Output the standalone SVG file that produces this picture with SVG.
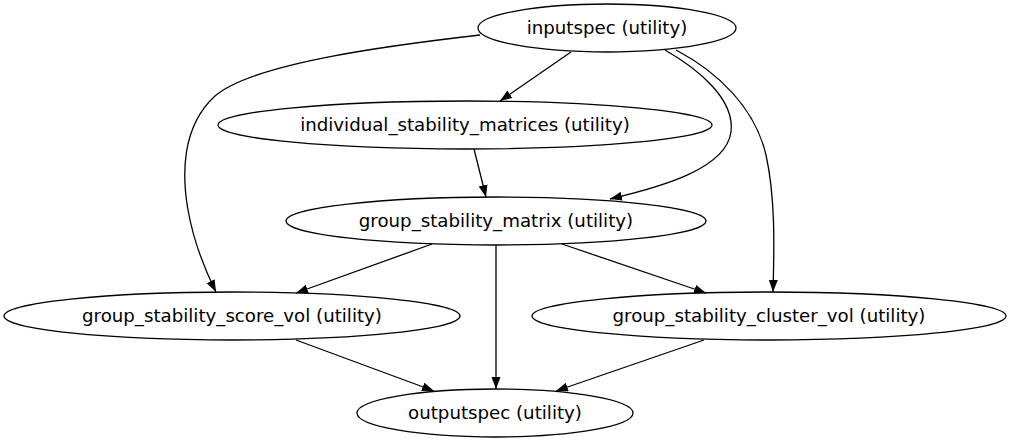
<svg xmlns="http://www.w3.org/2000/svg" width="1011" height="443" viewBox="0 0 1011 443">
<style>
.node ellipse{fill:none;stroke:#000;stroke-width:1.3}
.node text{font-family:"DejaVu Sans",sans-serif;font-size:18.2px;text-anchor:middle;fill:#000}
.edges path{fill:none;stroke:#000;stroke-width:1.3;marker-end:url(#arr)}
</style>
<defs>
<marker id="arr" markerUnits="userSpaceOnUse" markerWidth="14" markerHeight="12" refX="12" refY="4.5" orient="auto">
<path d="M0,0 L12,4.5 L0,9 z" fill="#000"/>
</marker>
</defs>
<rect width="1011" height="443" fill="#fff"/>
<g class="edges">
<path d="M571,52 L500,101"/>
<path d="M480,35 C402,44 254,62 215,96 C181,127 182,176 188,210 C193,238 203,266 216,292"/>
<path d="M474,149 L486,197"/>
<path d="M665,50 C700,70 735,100 731,132 C726,168 665,186 610,199"/>
<path d="M676,50 C718,72 755,108 766,155 C776,200 774,254 773,292"/>
<path d="M432,244 L296,293"/>
<path d="M496,245 L496,389"/>
<path d="M562,244 L706,293"/>
<path d="M296,340 L434,391"/>
<path d="M704,340 L556,391"/>
</g>
<g id="inputspec" class="node"><ellipse cx="607" cy="28" rx="129" ry="24"/><text x="607" y="34">inputspec (utility)</text></g>
<g id="individual_stability_matrices" class="node"><ellipse cx="465" cy="125" rx="247" ry="24"/><text x="465" y="131">individual_stability_matrices (utility)</text></g>
<g id="group_stability_matrix" class="node"><ellipse cx="496" cy="221" rx="210" ry="24"/><text x="496" y="227">group_stability_matrix (utility)</text></g>
<g id="group_stability_score_vol" class="node"><ellipse cx="232" cy="316" rx="228" ry="24"/><text x="232" y="322">group_stability_score_vol (utility)</text></g>
<g id="group_stability_cluster_vol" class="node"><ellipse cx="769" cy="316" rx="237" ry="24"/><text x="769" y="322">group_stability_cluster_vol (utility)</text></g>
<g id="outputspec" class="node"><ellipse cx="495" cy="413" rx="138" ry="24"/><text x="495" y="419">outputspec (utility)</text></g>
</svg>
